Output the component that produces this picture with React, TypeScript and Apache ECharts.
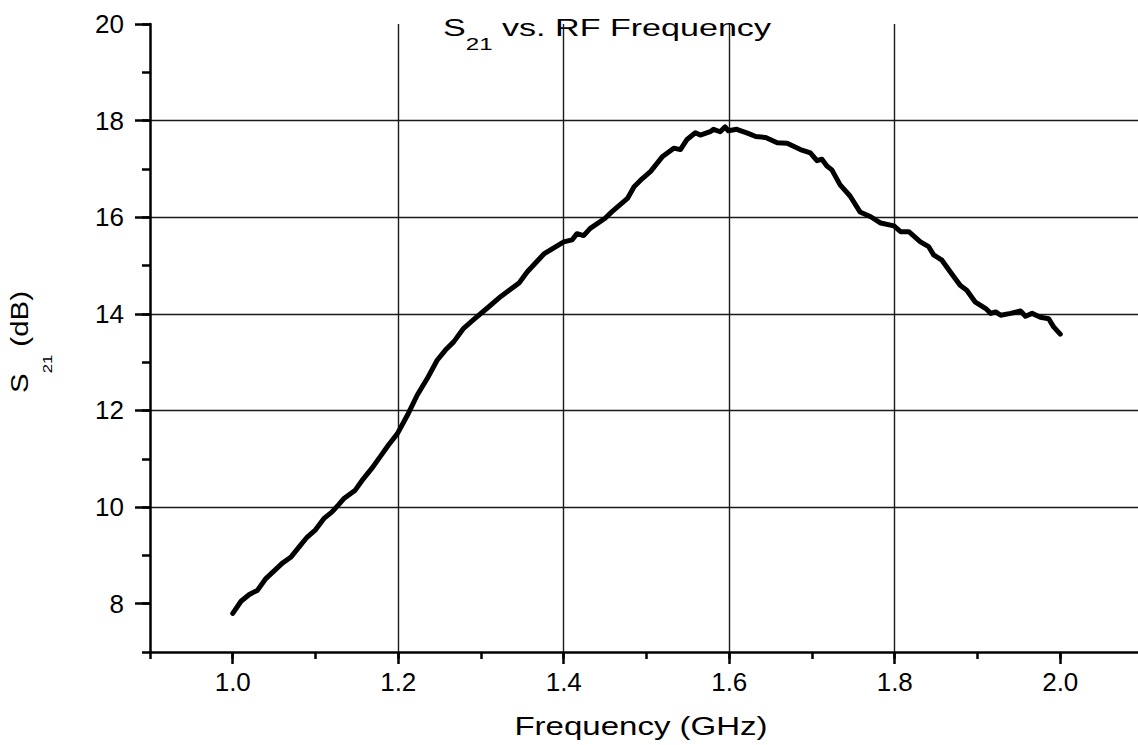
import React, { useEffect, useRef } from "react";
import * as echarts from "echarts";

const freq = [
  1.0, 1.01, 1.02, 1.03, 1.04, 1.05, 1.06, 1.07, 1.08, 1.09, 1.1, 1.11, 1.12, 1.128, 1.134, 1.148, 1.158, 1.168,
  1.178, 1.188, 1.199, 1.211, 1.223, 1.235, 1.247, 1.257, 1.267, 1.279, 1.291, 1.307, 1.324, 1.346, 1.356, 1.376,
  1.4, 1.41, 1.416, 1.424, 1.432, 1.45, 1.458, 1.477, 1.485, 1.495, 1.505, 1.519, 1.533, 1.541, 1.549, 1.559, 1.565,
  1.577, 1.581, 1.589, 1.595, 1.599, 1.609, 1.622, 1.632, 1.644, 1.658, 1.67, 1.686, 1.698, 1.706, 1.712, 1.718,
  1.724, 1.734, 1.746, 1.758, 1.771, 1.783, 1.799, 1.807, 1.817, 1.831, 1.841, 1.847, 1.857, 1.867, 1.879, 1.887,
  1.897, 1.91, 1.916, 1.922, 1.928, 1.94, 1.952, 1.958, 1.966, 1.976, 1.986, 1.992, 2.0,
];
const s21 = [
  7.8, 8.05, 8.19, 8.28, 8.52, 8.68, 8.84, 8.96, 9.17, 9.38, 9.53, 9.76, 9.9, 10.05, 10.17, 10.35, 10.59, 10.8,
  11.04, 11.28, 11.52, 11.9, 12.32, 12.66, 13.04, 13.25, 13.42, 13.7, 13.88, 14.11, 14.36, 14.64, 14.87, 15.24,
  15.49, 15.53, 15.66, 15.62, 15.77, 15.98, 16.11, 16.39, 16.63, 16.8, 16.95, 17.25, 17.43, 17.4, 17.61, 17.75, 17.7,
  17.77, 17.82, 17.77, 17.87, 17.79, 17.82, 17.74, 17.67, 17.65, 17.54, 17.53, 17.4, 17.33, 17.17, 17.2, 17.06,
  16.98, 16.67, 16.44, 16.11, 16.01, 15.88, 15.82, 15.7, 15.7, 15.49, 15.39, 15.22, 15.11, 14.87, 14.59, 14.49,
  14.25, 14.11, 14.01, 14.04, 13.97, 14.01, 14.06, 13.95, 14.01, 13.93, 13.9, 13.73, 13.58,
];
const xMajorTicks = [1.0, 1.2, 1.4, 1.6, 1.8, 2.0];
const yMajorTicks = [8, 10, 12, 14, 16, 18, 20];

const FONT = "'Liberation Sans', Arial, sans-serif";

export default function App() {
  const ref = useRef<HTMLDivElement>(null);
  useEffect(() => {
    if (!ref.current) return;
    const chart = echarts.init(ref.current, null, { renderer: "svg" });
    const data = freq.map((f, i) => [f, s21[i]]);
    const axisLineStyle = { color: "#000", width: 2.5 };
    const gridStyle = { color: "#1a1a1a", width: 1.4 };
    chart.setOption({
      animation: false,
      backgroundColor: "#fff",
      grid: { left: 150, right: 7, top: 24, bottom: 93, containLabel: false },
      xAxis: [
        {
          type: "value",
          min: 0.9,
          max: 2.1,
          position: "bottom",
          axisLine: { show: true, lineStyle: axisLineStyle },
          axisTick: { show: true, customValues: xMajorTicks, length: 12, lineStyle: axisLineStyle },
          axisLabel: {
            show: true,
            customValues: xMajorTicks,
            formatter: (v: number) => v.toFixed(1),
            fontSize: 26,
            fontFamily: FONT,
            color: "#000",
            margin: 17,
          },
          splitLine: { show: true, showMinLine: false, showMaxLine: false, lineStyle: gridStyle },
        },
        {
          type: "value",
          min: 0.9,
          max: 2.1,
          interval: 0.1,
          position: "bottom",
          axisLine: { show: false },
          axisTick: { show: true, length: 7, lineStyle: axisLineStyle },
          axisLabel: { show: false },
          splitLine: { show: false },
        },
      ],
      yAxis: [
        {
          type: "value",
          min: 7,
          max: 20,
          position: "left",
          axisLine: { show: true, lineStyle: axisLineStyle },
          axisTick: { show: true, customValues: yMajorTicks, length: 15, lineStyle: axisLineStyle },
          axisLabel: {
            show: true,
            customValues: yMajorTicks,
            fontSize: 26,
            fontFamily: FONT,
            color: "#000",
            margin: 26,
          },
          splitLine: { show: true, showMinLine: false, showMaxLine: false, lineStyle: gridStyle },
        },
        {
          type: "value",
          min: 7,
          max: 20,
          interval: 1,
          position: "left",
          axisLine: { show: false },
          axisTick: { show: true, length: 8, lineStyle: axisLineStyle },
          axisLabel: { show: false },
          splitLine: { show: false },
        },
      ],
      series: [
        {
          type: "line",
          xAxisIndex: 0,
          yAxisIndex: 0,
          data,
          showSymbol: false,
          symbol: "none",
          lineStyle: { color: "#000", width: 5, join: "round", cap: "round" },
          z: 5,
        },
      ],
      graphic: [
        {
          type: "text",
          x: 443,
          y: 15,
          scaleX: 1.42,
          style: {
            text: "{a|S}{s|21}{a| vs. RF Frequency}",
            align: "left",
            verticalAlign: "top",
            rich: {
              a: { fontSize: 24, fontFamily: FONT, fill: "#000", verticalAlign: "top" },
              s: { fontSize: 17, fontFamily: FONT, fill: "#000", verticalAlign: "top", padding: [20, 0, 0, 0] },
            },
          },
        },
        {
          type: "text",
          x: 641,
          y: 726,
          scaleX: 1.27,
          style: {
            text: "Frequency (GHz)",
            fontSize: 26,
            fontFamily: FONT,
            fill: "#000",
            align: "center",
            verticalAlign: "middle",
          },
        },
        {
          type: "text",
          x: 8.5,
          y: 342,
          rotation: Math.PI / 2,
          scaleX: 1.28,
          style: {
            text: "{a|S}{s|21}{a| (dB)}",
            align: "center",
            verticalAlign: "top",
            rich: {
              a: { fontSize: 23, fontFamily: FONT, fill: "#000", verticalAlign: "top" },
              s: { fontSize: 13, fontFamily: FONT, fill: "#000", verticalAlign: "top", padding: [32, 0, 0, 0] },
            },
          },
        },
      ],
    });
    return () => chart.dispose();
  }, []);
  return (
    <div style={{ position: "fixed", left: 0, top: 0, width: 1138, height: 745, overflow: "hidden", background: "#fff" }}>
      <div ref={ref} style={{ width: 1150, height: 745 }} />
    </div>
  );
}
